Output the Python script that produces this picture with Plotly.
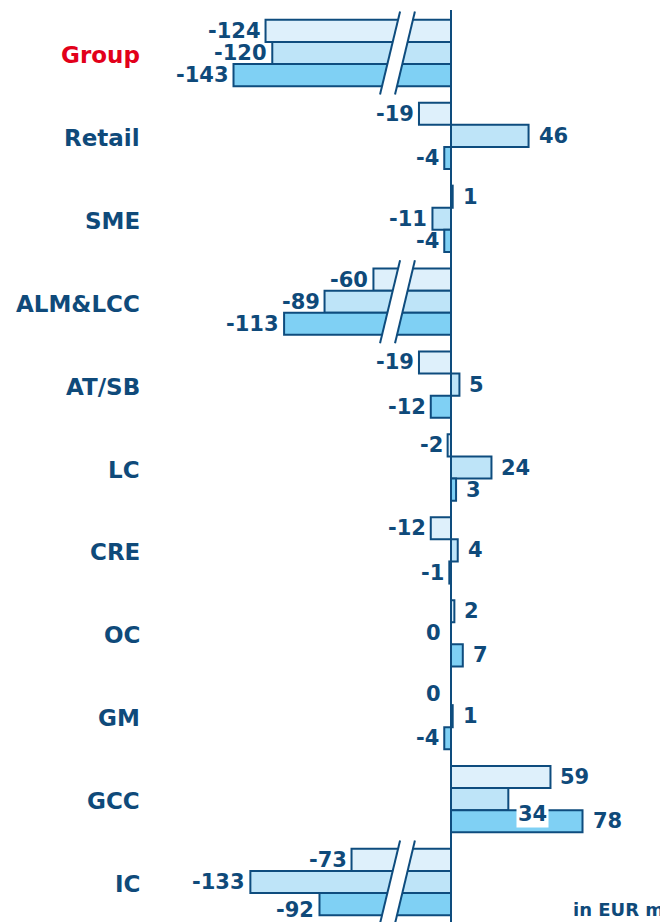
import plotly.graph_objects as go

# ---- data ----
categories = ["Group", "Retail", "SME", "ALM&LCC", "AT/SB", "LC", "CRE", "OC", "GM", "GCC", "IC"]
series_a = [-124, -19, 1, -60, -19, -2, -12, 2, 0, 59, -73]
series_b = [-120, 46, -11, -89, 5, 24, 4, 0, 1, 34, -133]
series_c = [-143, -4, -4, -113, -12, 3, -1, 7, -4, 78, -92]
broken = [True, False, False, True, False, False, False, False, False, False, True]
BREAK_CUT = 14  # units removed by the axis break on broken rows

# ---- style ----
FILLS = ["#DEF0FB", "#BEE4F8", "#7FD0F4"]
OUTLINE = "#0E4C7E"
TEXT = "#0F4A7A"
RED = "#E2001A"
FONT = "DejaVu Sans, Verdana, sans-serif"

# page has an 8px body margin -> figure is drawn at (8, 8)
W, H = 660, 914
PX_PER_UNIT = 1.686
ZERO_PX = 443
x_range = [-ZERO_PX / PX_PER_UNIT, (W - ZERO_PX) / PX_PER_UNIT]
ROW_PX = 82.9
TOP_CENTER_PX = 45
y_range = [(H - TOP_CENTER_PX) / ROW_PX, -TOP_CENTER_PX / ROW_PX]

all_series = [series_a, series_b, series_c]


def shown(v, brk):
    return v + BREAK_CUT if (brk and v < -BREAK_CUT) else v


fig = go.Figure()
ypos = list(range(len(categories)))
for j, vals in enumerate(all_series):
    disp = [shown(v, b) for v, b in zip(vals, broken)]
    fig.add_trace(go.Bar(
        y=ypos, x=disp, orientation="h",
        marker=dict(color=FILLS[j], line=dict(color=OUTLINE, width=2)),
        showlegend=False, hoverinfo="skip",
    ))

BAR_STEP = 0.8 / 3
annotations = []
special = {
    ("GCC", 1): dict(yshift=-15, bgcolor="white", borderpad=1),
    ("IC", 2): dict(yshift=-6),
}
for j, vals in enumerate(all_series):
    for i, (cat, v, b) in enumerate(zip(categories, vals, broken)):
        d = shown(v, b)
        y = i + (j - 1) * BAR_STEP
        a = dict(x=d, y=y, xref="x", yref="y", text=str(v), showarrow=False,
                 font=dict(family=FONT, size=21, color=TEXT, weight="bold"),
                 yanchor="middle")
        if v > 0:
            a.update(xanchor="left", xshift=8)
        elif v == 0:
            a.update(xanchor="right", xshift=-8)
        else:
            a.update(xanchor="right", xshift=-3)
        a.update(special.get((cat, j), {}))
        annotations.append(a)

for i, cat in enumerate(categories):
    annotations.append(dict(
        x=134 / W, xref="paper", y=i, yref="y", text=cat, showarrow=False,
        xanchor="right", yanchor="middle", yshift=-2,
        font=dict(family=FONT, size=23, color=RED if cat == "Group" else TEXT,
                  weight="bold"),
    ))

annotations.append(dict(
    x=1, xref="paper", y=0, yref="paper", text="in EUR m", showarrow=False,
    xanchor="right", yanchor="bottom", xshift=-2, yshift=0,
    font=dict(family=FONT, size=18, color=TEXT, weight="bold"),
))

shapes = []
# axis breaks
BRK_TOP_L, BRK_TOP_R = -30.2, -21.4
BRK_BOT_L, BRK_BOT_R = -42.1, -33.2
for i, b in enumerate(broken):
    if not b:
        continue
    y0, y1 = i - 0.5, i + 0.5
    path = (f"M {BRK_TOP_L} {y0} L {BRK_TOP_R} {y0} L {BRK_BOT_R} {y1} "
            f"L {BRK_BOT_L} {y1} Z")
    shapes.append(dict(type="path", path=path, xref="x", yref="y",
                       fillcolor="white", line=dict(width=0)))
    shapes.append(dict(type="line", x0=BRK_TOP_L, y0=y0, x1=BRK_BOT_L, y1=y1,
                       xref="x", yref="y", line=dict(color=OUTLINE, width=2)))
    shapes.append(dict(type="line", x0=BRK_TOP_R, y0=y0, x1=BRK_BOT_R, y1=y1,
                       xref="x", yref="y", line=dict(color=OUTLINE, width=2)))

# zero line
shapes.append(dict(type="line", x0=0, x1=0, y0=-0.52, y1=y_range[0] + 0.2,
                   xref="x", yref="y", line=dict(color=OUTLINE, width=2)))

fig.update_layout(
    width=W, height=H,
    margin=dict(l=0, r=0, t=0, b=0),
    paper_bgcolor="white", plot_bgcolor="white",
    barmode="group", bargap=0.2, bargroupgap=0,
    xaxis=dict(range=x_range, visible=False, fixedrange=True),
    yaxis=dict(range=y_range, visible=False, fixedrange=True),
    annotations=annotations, shapes=shapes,
)

fig.write_html("out.html")
